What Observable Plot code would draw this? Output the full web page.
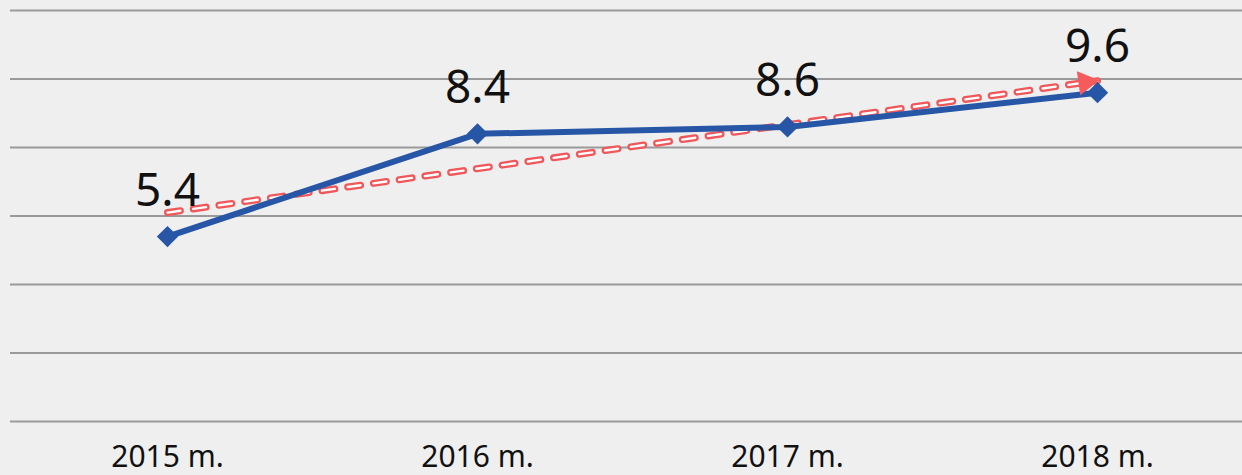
<!DOCTYPE html>
<html>
<head>
<meta charset="utf-8">
<script src="https://cdn.jsdelivr.net/npm/d3@7"></script>
<script src="https://cdn.jsdelivr.net/npm/@observablehq/plot@0.6"></script>
<style>
  html, body { margin: 0; padding: 0; background: #efefef; }
  #chart { width: 1242px; height: 475px; overflow: hidden; }
</style>
</head>
<body>
<div id="chart"></div>
<script>
const categories = ["2015 m.", "2016 m.", "2017 m.", "2018 m."];
const values = [5.4, 8.4, 8.6, 9.6];
const valueLabels = ["5.4", "8.4", "8.6", "9.6"];
const trendCategories = ["2015 m.", "2018 m."];
const trendValues = [6.1, 9.95];
const gridValues = [0, 2, 4, 6, 8, 10, 12];

const data = categories.map((c, i) => ({cat: c, value: values[i], label: valueLabels[i]}));
const trend = trendCategories.map((c, i) => ({cat: c, value: trendValues[i]}));
const trendEnd = [trend[trend.length - 1]];

const font = "'Noto Sans', 'Open Sans', sans-serif";

const chart = Plot.plot({
  width: 1242,
  height: 475,
  marginLeft: 10,
  marginRight: 0,
  marginTop: 10,
  marginBottom: 54,
  style: {background: "#efefef", fontFamily: font, color: "#111"},
  x: {type: "point", domain: categories, range: [167, 1097], padding: 0, label: null},
  y: {domain: [0, 12], axis: null},
  marks: [
    Plot.ruleY(gridValues, {stroke: "#9a9a9a", strokeWidth: 2}),
    Plot.axisX({tickSize: 0, tickPadding: 24, fontSize: 30, fill: "#111", label: null}),
    Plot.line(trend, {x: "cat", y: "value", stroke: "#f0575a", strokeWidth: 7,
      strokeDasharray: "13,13", strokeLinecap: "round"}),
    Plot.line(trend, {x: "cat", y: "value", stroke: "#ffffff", strokeWidth: 2.4,
      strokeDasharray: "13,13", strokeLinecap: "round"}),
    Plot.line(data, {x: "cat", y: "value", stroke: "#2756a6", strokeWidth: 6}),
    Plot.dot(data, {x: "cat", y: "value", symbol: "square", r: 8.5, rotate: 45, fill: "#2756a6", stroke: "none"}),
    Plot.dot(trendEnd, {x: "cat", y: "value", symbol: "triangle", r: 9, rotate: 82, fill: "#f55a5c", stroke: "none", dx: -12, dy: 1.5}),
    Plot.text(data, {x: "cat", y: "value", text: "label", dy: -31, lineAnchor: "bottom",
      fontSize: 46, fill: "#111", fontFamily: font})
  ]
});
document.getElementById("chart").appendChild(chart);
</script>
</body>
</html>
